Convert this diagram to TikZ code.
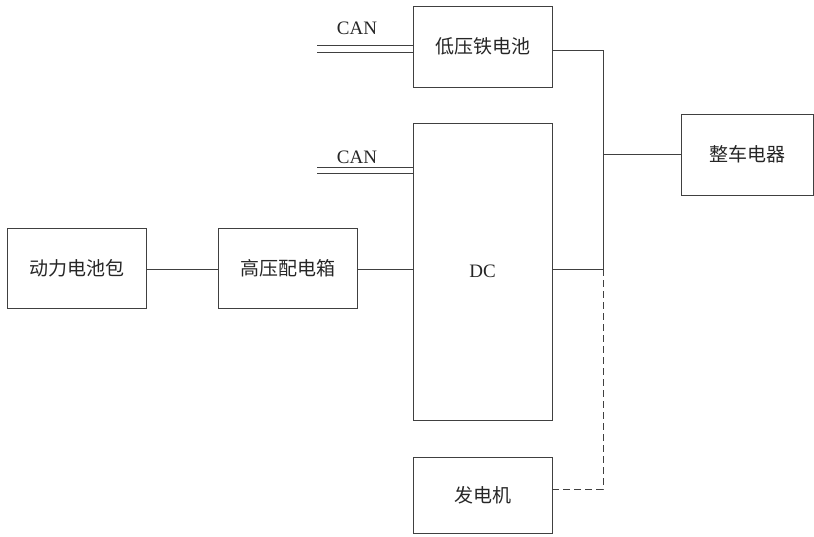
\documentclass[tikz,border=0pt]{standalone}
\usepackage{fontspec}
\setmainfont{Liberation Serif}
\newfontfamily\cjk{Noto Sans CJK SC}
\begin{document}
\begin{tikzpicture}[x=1pt,y=-1pt,
  box/.style={draw=black!75,line width=1pt,inner sep=0pt},
  wire/.style={draw=black!75,line width=1pt},
  lbl/.style={font=\cjk\fontsize{19}{22}\selectfont,text=black!85},
  lat/.style={font=\fontsize{19}{22}\selectfont,text=black!85}]
\useasboundingbox (0,0) rectangle (814,536);
\node[box,minimum width=139pt,minimum height=80pt,lbl] (bat) at (76.5,268) {动力电池包};
\node[box,minimum width=139pt,minimum height=80pt,lbl] (hv) at (287.5,268) {高压配电箱};
\node[box,minimum width=139pt,minimum height=297pt,lat] (dc) at (482.5,271.5) {DC};
\node[box,minimum width=139pt,minimum height=81pt,lbl] (lv) at (482.5,46.5) {低压铁电池};
\node[box,minimum width=132pt,minimum height=81pt,lbl] (veh) at (747,154.5) {整车电器};
\node[box,minimum width=139pt,minimum height=76pt,lbl] (gen) at (482.5,495) {发电机};
\coordinate (j1) at (603,50);
\coordinate (j2) at (603,269);
\coordinate (j3) at (603,489);
\coordinate (c1a) at (317,45);
\coordinate (c1b) at (317,52);
\coordinate (c2a) at (317,167);
\coordinate (c2b) at (317,173);
\draw[wire] (bat.east |- 0,269) -- (hv.west |- 0,269);
\draw[wire] (hv.east |- 0,269) -- (dc.west |- 0,269);
\draw[wire] (lv.east |- j1) -- (j1) -- (j2) -- (dc.east |- j2);
\draw[wire] (j1 |- veh.west) -- (veh.west);
\draw[wire,dashed,dash pattern=on 7pt off 4pt] (j2) -- (j3) -- (gen.east |- j3);
\draw[wire] (c1a) -- (lv.west |- c1a);
\draw[wire] (c1b) -- (lv.west |- c1b);
\draw[wire] (c2a) -- (dc.west |- c2a);
\draw[wire] (c2b) -- (dc.west |- c2b);
\node[lat,anchor=base] (can1) at (357,34) {CAN};
\node[lat,anchor=base] (can2) at (357,163) {CAN};
\end{tikzpicture}
\end{document}
